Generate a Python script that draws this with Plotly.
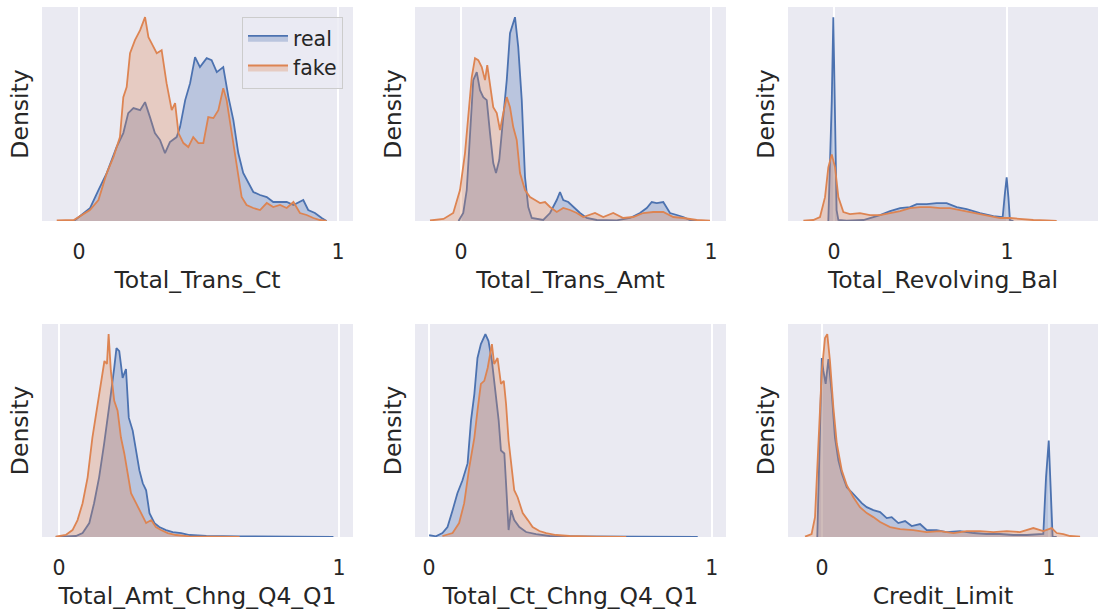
import plotly.graph_objects as go

# ---- Feature names ----
features = ["Total_Trans_Ct", "Total_Trans_Amt", "Total_Revolving_Bal",
            "Total_Amt_Chng_Q4_Q1", "Total_Ct_Chng_Q4_Q1", "Credit_Limit"]

# ---- Density curves (scaled feature value -> density) ----
trans_ct_real_x = [-0.02, 0.042, 0.075, 0.107, 0.145, 0.171, 0.19, 0.21, 0.236, 0.255, 0.274, 0.293, 0.313,
                   0.332, 0.351, 0.377, 0.39, 0.41, 0.429, 0.448, 0.467, 0.493, 0.512, 0.532, 0.557, 0.577,
                   0.596, 0.615, 0.634, 0.654, 0.673, 0.699, 0.725, 0.75, 0.776, 0.802, 0.828, 0.866, 0.885,
                   0.911, 0.937, 0.956]
trans_ct_real_y = [0, 0.127, 0.31, 0.48, 0.74, 0.88, 1.08, 1.13, 1.11, 1.19, 1.04, 0.88, 0.81, 0.68, 0.79,
                   0.84, 0.94, 1.21, 1.38, 1.64, 1.54, 1.63, 1.61, 1.49, 1.54, 1.24, 1.01, 0.68, 0.48, 0.38,
                   0.29, 0.26, 0.24, 0.19, 0.19, 0.19, 0.16, 0.21, 0.11, 0.08, 0.03, 0]
trans_ct_fake_x = [-0.086, -0.02, 0.042, 0.075, 0.107, 0.133, 0.158, 0.171, 0.184, 0.197, 0.216, 0.236, 0.255,
                   0.268, 0.28, 0.3, 0.319, 0.338, 0.358, 0.371, 0.384, 0.403, 0.422, 0.441, 0.461, 0.48, 0.499,
                   0.519, 0.538, 0.557, 0.57, 0.589, 0.609, 0.628, 0.647, 0.673, 0.699, 0.725, 0.75, 0.776,
                   0.802, 0.828, 0.853, 0.879, 0.905, 0.93, 0.956]
trans_ct_fake_y = [0.005, 0.01, 0.11, 0.21, 0.48, 0.64, 0.84, 1.24, 1.34, 1.68, 1.81, 1.91, 2.04, 1.84, 1.78,
                   1.68, 1.71, 1.38, 1.11, 1.18, 0.88, 0.78, 0.74, 0.84, 0.78, 0.78, 1.04, 1.03, 1.11, 1.33,
                   1.21, 0.88, 0.54, 0.24, 0.16, 0.13, 0.11, 0.18, 0.14, 0.16, 0.13, 0.19, 0.08, 0.06, 0.03,
                   0.01, 0]

trans_amt_real_x = [-0.01, 0.009, 0.023, 0.036, 0.049, 0.063, 0.076, 0.089, 0.103, 0.116, 0.129, 0.14, 0.153,
                    0.169, 0.183, 0.196, 0.216, 0.229, 0.243, 0.256, 0.269, 0.283, 0.329, 0.356, 0.383, 0.396,
                    0.409, 0.429, 0.449, 0.476, 0.503, 0.543, 0.623, 0.676, 0.716, 0.743, 0.763, 0.783, 0.809,
                    0.836, 0.863, 0.889, 0.916, 0.956]
trans_amt_real_y = [0, 0.08, 0.31, 0.88, 1.41, 1.49, 1.31, 1.24, 1.21, 0.88, 0.58, 0.48, 0.61, 1.04, 1.41,
                    1.88, 2.04, 1.74, 1.21, 0.44, 0.14, 0.03, 0.01, 0.08, 0.21, 0.29, 0.21, 0.19, 0.14, 0.08,
                    0.03, 0.01, 0.007, 0.03, 0.08, 0.13, 0.19, 0.18, 0.19, 0.08, 0.06, 0.04, 0.01, 0]
trans_amt_fake_x = [-0.124, -0.07, -0.031, -0.004, 0.016, 0.029, 0.043, 0.056, 0.069, 0.083, 0.096, 0.105,
                    0.116, 0.129, 0.143, 0.156, 0.169, 0.183, 0.196, 0.209, 0.223, 0.236, 0.256, 0.276, 0.296,
                    0.316, 0.336, 0.356, 0.383, 0.409, 0.436, 0.463, 0.489, 0.536, 0.569, 0.609, 0.649, 0.689,
                    0.729, 0.769, 0.809, 0.849, 0.889, 0.943, 0.996]
trans_amt_fake_y = [0.005, 0.02, 0.08, 0.31, 0.68, 1.08, 1.44, 1.63, 1.61, 1.54, 1.41, 1.56, 1.34, 1.14, 1.08,
                    0.91, 1.08, 1.24, 1.14, 0.94, 0.81, 0.48, 0.31, 0.24, 0.21, 0.18, 0.19, 0.14, 0.09, 0.13,
                    0.11, 0.08, 0.04, 0.08, 0.04, 0.08, 0.03, 0.04, 0.08, 0.09, 0.09, 0.04, 0.03, 0.01, 0.003]

revolving_real_x = [-0.033, -0.013, -0.004, 0.006, 0.015, 0.025, 0.073, 0.17, 0.227, 0.266, 0.324, 0.382,
                    0.439, 0.478, 0.536, 0.593, 0.651, 0.709, 0.767, 0.844, 0.921, 0.975, 0.988, 0.998, 1.008,
                    1.017, 1.037]
revolving_real_y = [0, 1.21, 2.05, 1.21, 0.11, 0.01, 0.003, 0.01, 0.04, 0.06, 0.10, 0.13, 0.14, 0.17, 0.17,
                    0.18, 0.18, 0.14, 0.12, 0.08, 0.05, 0.04, 0.28, 0.44, 0.24, 0.01, 0]
revolving_fake_x = [-0.177, -0.12, -0.081, -0.052, -0.033, -0.013, 0.006, 0.025, 0.054, 0.092, 0.15, 0.208,
                    0.266, 0.324, 0.382, 0.439, 0.497, 0.555, 0.613, 0.671, 0.728, 0.786, 0.844, 0.902, 0.96,
                    1.017, 1.075, 1.152, 1.229, 1.287]
revolving_fake_y = [0.003, 0.01, 0.04, 0.24, 0.54, 0.67, 0.54, 0.24, 0.09, 0.07, 0.08, 0.06, 0.06, 0.08, 0.10,
                    0.13, 0.14, 0.14, 0.13, 0.13, 0.11, 0.09, 0.07, 0.05, 0.03, 0.03, 0.02, 0.01, 0.005, 0]

amt_chng_real_x = [-0.012, 0.06, 0.084, 0.108, 0.125, 0.143, 0.161, 0.173, 0.185, 0.197, 0.205, 0.215, 0.227,
                   0.239, 0.249, 0.263, 0.275, 0.287, 0.299, 0.311, 0.323, 0.341, 0.358, 0.382, 0.406, 0.436,
                   0.466, 0.526, 0.645, 0.765, 0.98]
amt_chng_real_y = [0, 0.01, 0.04, 0.14, 0.34, 0.60, 0.94, 1.17, 1.44, 1.70, 1.90, 1.87, 1.60, 1.69, 1.20, 1.07,
                   0.87, 0.67, 0.54, 0.47, 0.24, 0.14, 0.10, 0.07, 0.05, 0.04, 0.02, 0.01, 0.007, 0.003, 0]
amt_chng_fake_x = [-0.012, 0.024, 0.048, 0.066, 0.084, 0.102, 0.119, 0.134, 0.143, 0.153, 0.162, 0.171, 0.177,
                   0.185, 0.197, 0.209, 0.221, 0.233, 0.245, 0.257, 0.275, 0.293, 0.311, 0.329, 0.346, 0.364,
                   0.388, 0.418, 0.466, 0.548, 0.645]
amt_chng_fake_y = [0.003, 0.02, 0.07, 0.17, 0.34, 0.60, 1.00, 1.27, 1.47, 1.64, 1.77, 1.74, 2.04, 1.67, 1.37,
                   1.27, 1.00, 0.84, 0.64, 0.44, 0.34, 0.24, 0.14, 0.17, 0.10, 0.07, 0.04, 0.02, 0.007, 0.003, 0]

ct_chng_real_x = [0.0, 0.024, 0.047, 0.065, 0.083, 0.1, 0.118, 0.136, 0.148, 0.16, 0.171, 0.183, 0.199, 0.21,
                  0.222, 0.234, 0.246, 0.254, 0.266, 0.274, 0.281, 0.29, 0.301, 0.319, 0.343, 0.378, 0.426, 0.52,
                  0.757, 0.95]
ct_chng_real_y = [0.02, 0.007, 0.04, 0.10, 0.27, 0.44, 0.57, 0.74, 1.17, 1.44, 1.80, 1.94, 2.04, 1.97, 1.77,
                  1.44, 1.17, 0.87, 0.84, 0.44, 0.07, 0.27, 0.17, 0.10, 0.05, 0.03, 0.01, 0.007, 0.003, 0]
ct_chng_fake_x = [0.047, 0.083, 0.106, 0.124, 0.142, 0.16, 0.171, 0.183, 0.195, 0.207, 0.222, 0.23, 0.242,
                  0.254, 0.264, 0.272, 0.281, 0.29, 0.301, 0.313, 0.331, 0.349, 0.366, 0.39, 0.414, 0.449, 0.496,
                  0.591, 0.697]
ct_chng_fake_y = [0.01, 0.04, 0.14, 0.34, 0.70, 1.00, 1.27, 1.54, 1.57, 1.70, 1.94, 1.74, 1.80, 1.54, 1.57,
                  1.34, 0.97, 0.74, 0.47, 0.40, 0.24, 0.17, 0.10, 0.06, 0.04, 0.02, 0.01, 0.003, 0]

credit_real_x = [-0.021, -0.012, -0.001, 0.006, 0.016, 0.028, 0.043, 0.057, 0.072, 0.087, 0.109, 0.131, 0.153,
                 0.175, 0.197, 0.226, 0.256, 0.285, 0.307, 0.336, 0.366, 0.395, 0.432, 0.461, 0.505, 0.549,
                 0.608, 0.667, 0.725, 0.784, 0.843, 0.902, 0.975, 0.987, 0.999, 1.007, 1.016, 1.034]
credit_real_y = [0, 0.94, 1.80, 1.67, 1.54, 1.79, 1.44, 1.00, 0.77, 0.64, 0.50, 0.45, 0.39, 0.34, 0.30, 0.27,
                 0.25, 0.19, 0.20, 0.14, 0.16, 0.11, 0.13, 0.07, 0.07, 0.05, 0.06, 0.04, 0.03, 0.03, 0.02, 0.02,
                 0.03, 0.60, 0.97, 0.54, 0, 0]
credit_fake_x = [-0.075, -0.046, -0.031, -0.016, -0.001, 0.013, 0.023, 0.035, 0.05, 0.065, 0.087, 0.109, 0.138,
                 0.167, 0.197, 0.226, 0.256, 0.3, 0.344, 0.402, 0.461, 0.52, 0.579, 0.637, 0.696, 0.755, 0.814,
                 0.872, 0.931, 0.975, 1.012, 1.034, 1.063, 1.093, 1.137]
credit_fake_y = [0.003, 0.03, 0.20, 0.94, 1.67, 2.00, 2.04, 1.77, 1.30, 0.94, 0.67, 0.52, 0.40, 0.30, 0.24,
                 0.20, 0.15, 0.10, 0.08, 0.07, 0.05, 0.06, 0.04, 0.06, 0.06, 0.05, 0.06, 0.05, 0.09, 0.06, 0.09,
                 0.04, 0.03, 0.01, 0.003]

curves = [
    (trans_ct_real_x, trans_ct_real_y, trans_ct_fake_x, trans_ct_fake_y),
    (trans_amt_real_x, trans_amt_real_y, trans_amt_fake_x, trans_amt_fake_y),
    (revolving_real_x, revolving_real_y, revolving_fake_x, revolving_fake_y),
    (amt_chng_real_x, amt_chng_real_y, amt_chng_fake_x, amt_chng_fake_y),
    (ct_chng_real_x, ct_chng_real_y, ct_chng_fake_x, ct_chng_fake_y),
    (credit_real_x, credit_real_y, credit_fake_x, credit_fake_y),
]

# ---- Panel geometry (pixels -> paper fractions) and x ranges ----
W, H = 1099, 615
col_px = [(42, 353), (415, 726), (788, 1098)]
row_px = [(7, 221), (324, 537)]
x_ranges = [(-0.143, 1.058), (-0.184, 1.06), (-0.266, 1.526),
            (-0.061, 1.05), (-0.05, 1.05), (-0.15, 1.216)]

BLUE = "#4C72B0"
ORANGE = "#DD8452"
BLUE_FILL = "rgba(76,114,176,0.3)"
ORANGE_FILL = "rgba(221,132,82,0.3)"
TEXT = "#262626"
FONT = "DejaVu Sans"

fig = go.Figure()
layout = dict(
    width=W, height=H,
    margin=dict(l=0, r=0, t=0, b=0),
    paper_bgcolor="white",
    plot_bgcolor="#EAEAF2",
    font=dict(family=FONT, color=TEXT),
    showlegend=True,
    legend=dict(
        x=343 / W, y=1 - 17 / H, xanchor="right", yanchor="top",
        bgcolor="rgba(234,234,242,0.8)", bordercolor="#cccccc", borderwidth=1,
        font=dict(size=20.5, color=TEXT, family=FONT),
        itemwidth=40, tracegroupgap=0,
    ),
)

for i, (rx, ry, fx, fy) in enumerate(curves):
    r, c = divmod(i, 3)
    n = "" if i == 0 else str(i + 1)
    xref, yref = "x" + n, "y" + n
    fig.add_trace(go.Scatter(
        x=rx, y=ry, mode="lines", fill="tozeroy", fillcolor=BLUE_FILL,
        line=dict(color=BLUE, width=1.8), name="real", showlegend=(i == 0),
        xaxis=xref, yaxis=yref, hoverinfo="skip"))
    fig.add_trace(go.Scatter(
        x=fx, y=fy, mode="lines", fill="tozeroy", fillcolor=ORANGE_FILL,
        line=dict(color=ORANGE, width=1.8), name="fake", showlegend=(i == 0),
        xaxis=xref, yaxis=yref, hoverinfo="skip"))

    x0, x1 = col_px[c]
    top, bot = row_px[r]
    ymax = max(max(ry), max(fy)) * 1.05
    layout["xaxis" + n] = dict(
        domain=[x0 / W, x1 / W], anchor=yref, range=list(x_ranges[i]),
        tickvals=[0, 1], ticktext=["0", "1"],
        showgrid=True, gridcolor="white", gridwidth=1.6,
        zeroline=False, showline=False,
        ticks="outside", ticklen=12, tickcolor="rgba(0,0,0,0)",
        tickfont=dict(size=20.5, color=TEXT, family=FONT),
        title=dict(text=features[i], font=dict(size=23.5, color=TEXT, family=FONT), standoff=8),
        automargin=False, fixedrange=True,
    )
    layout["yaxis" + n] = dict(
        domain=[1 - bot / H, 1 - top / H], anchor=xref, range=[0, ymax],
        showticklabels=False, showgrid=False, zeroline=False, showline=False, ticks="",
        title=dict(text="Density", font=dict(size=23.5, color=TEXT, family=FONT), standoff=5),
        automargin=False, fixedrange=True,
    )

fig.update_layout(**layout)
fig.write_html("out.html")
